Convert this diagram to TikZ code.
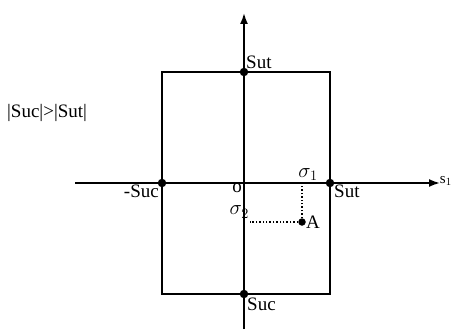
\documentclass[tikz,border=0pt]{standalone}
\usepackage{fontspec}
\setmainfont{Liberation Serif}
\usetikzlibrary{arrows.meta}
\begin{document}
\begin{tikzpicture}[x=1pt,y=-1pt,
  axis/.style={line width=1.8pt,-{Latex[length=11pt,width=8pt]}},
  frame/.style={line width=1.7pt},
  dot/.style={circle,fill=black,inner sep=0pt,minimum size=8.5pt},
  guide/.style={line width=1.4pt,dotted},
  lbl/.style={font=\fontsize{19}{21}\selectfont,inner sep=1pt},
  mlbl/.style={font=\fontsize{22}{24}\selectfont,inner sep=1pt}]
\useasboundingbox (0,0) rectangle (452,329);
\coordinate (vb) at (244,329);
\coordinate (vt) at (244,13);
\coordinate (hl) at (75,183);
\coordinate (hr) at (440,183);
\draw[axis] (vb) -- (vt);
\draw[axis] (hl) -- (hr);
\draw[frame] (162,72) rectangle (330,294);
\node[dot] (top) at (244,72) {};
\node[dot] (left) at (162,183) {};
\node[dot] (right) at (330,183) {};
\node[dot] (bot) at (244,294) {};
\node[dot,minimum size=7.5pt] (A) at (302,222) {};
\coordinate (s1p) at (302,183);
\coordinate (s2p) at (250,222);
\draw[guide] (A) -- (s1p);
\draw[guide] (A) -- (s2p);
\node[lbl,anchor=south west] (tsut) at (245,70) {Sut};
\node[lbl,anchor=north east] (tsuc) at (160,184) {-Suc};
\node[lbl,anchor=north west] (rsut) at (333,184) {Sut};
\node[lbl,anchor=north west] (bsuc) at (246,297) {Suc};
\node[lbl,anchor=north] (o) at (237,182) {o};
\node[mlbl,anchor=south] (sig1) at (308,182) {$\sigma_1$};
\node[mlbl,anchor=east] (sig2) at (250,212) {$\sigma_2$};
\node[lbl,anchor=west] (tA) at (305,222) {A};
\node[font=\fontsize{15}{17}\selectfont,anchor=east,inner sep=0pt] (s1) at (452,181) {s$_1$};
\node[font=\fontsize{19}{21}\selectfont,anchor=west,inner sep=0pt] (cond) at (7,113) {|Suc|>|Sut|};
\end{tikzpicture}
\end{document}
